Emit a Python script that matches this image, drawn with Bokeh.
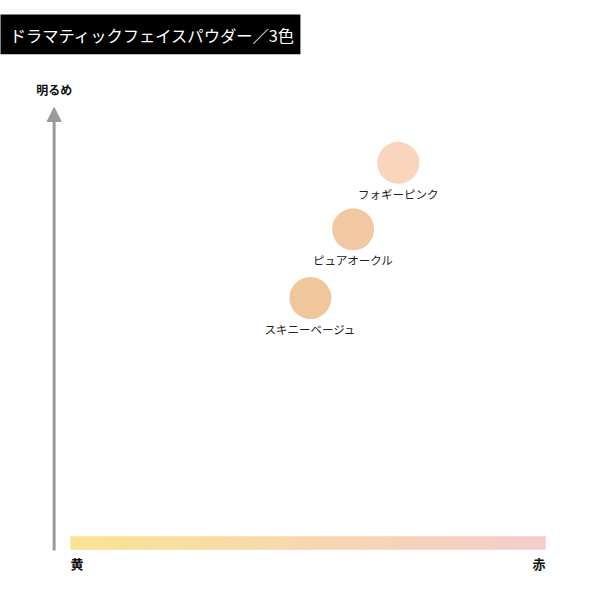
from bokeh.core.properties import value
from bokeh.embed import file_html
from bokeh.models import Arrow, ColumnDataSource, NormalHead, Range1d
from bokeh.plotting import figure
from bokeh.resources import INLINE

# Shade positions: redness (0 = 黄, 100 = 赤) and brightness (0 .. 100 = 明るめ)
shade_names = ["フォギーピンク", "ピュアオークル", "スキニーベージュ"]
shade_redness = [69, 59.5, 50.5]
shade_brightness = [87.5, 72.5, 57]
shade_colors = ["#f8d5bc", "#f1c8a2", "#efc79b"]

title_text = "ドラマティックフェイスパウダー／3色"
y_label = "明るめ"
x_labels = ["黄", "赤"]
bar_colors = ["#fae392", "#f3cccb"]

JP = value("Noto Sans CJK JP")

p = figure(width=584, height=584, output_backend="svg", toolbar_location=None,
           x_range=Range1d(-14.74, 108.21), y_range=Range1d(-7.67, 124.15),
           min_border=0, outline_line_color=None)
p.axis.visible = False
p.grid.visible = False
p.background_fill_color = "white"

# title box
p.quad(left=[-20], right=[48.4], bottom=[112.0], top=[121.0],
       fill_color="black", line_color=None)
p.text(x=[-12.8], y=[116.4], text=[title_text], text_color="white",
       text_font=JP, text_font_size="16.3px", text_baseline="middle", text_align="left")

# yellow -> red bar, drawn as thin slices
n = 120
def mix(c0, c1, t):
    a = [int(c0[i:i + 2], 16) for i in (1, 3, 5)]
    b = [int(c1[i:i + 2], 16) for i in (1, 3, 5)]
    return "#%02x%02x%02x" % tuple(round(a[k] + (b[k] - a[k]) * t) for k in range(3))

edges = [100 * i / n for i in range(n + 1)]
slice_colors = [mix(bar_colors[0], bar_colors[1], (i + 0.5) / n) for i in range(n)]
p.quad(left=edges[:-1], right=edges[1:], bottom=0.23, top=3.16,
       fill_color=slice_colors, line_color=slice_colors, line_width=0.5)

p.text(x=[0], y=[-2.9], text=[x_labels[0]], text_font=JP, text_font_style="bold",
       text_font_size="13px", text_align="left", text_baseline="middle", text_color="#111111")
p.text(x=[100], y=[-2.9], text=[x_labels[1]], text_font=JP, text_font_style="bold",
       text_font_size="13px", text_align="right", text_baseline="middle", text_color="#111111")

# brightness arrow
p.add_layout(Arrow(end=NormalHead(size=14, fill_color="#9a9a9a", line_color="#9a9a9a"),
                   x_start=-3.45, y_start=0, x_end=-3.45, y_end=100,
                   line_color="#9a9a9a", line_width=3))
p.text(x=[-3.45], y=[100], y_offset=-18, text=[y_label], text_font=JP, text_font_style="bold",
       text_font_size="12px", text_align="center", text_baseline="middle", text_color="#111111")

src = ColumnDataSource(dict(x=shade_redness, y=shade_brightness, name=shade_names, color=shade_colors))
p.scatter("x", "y", source=src, marker="circle", size=42, fill_color="color", line_color=None)
p.text("x", "y", text="name", source=src, y_offset=31, text_font=JP, text_font_size="11.5px",
       text_align="center", text_baseline="middle", text_color="#222222")

open("out.html", "w").write(file_html(p, INLINE))
